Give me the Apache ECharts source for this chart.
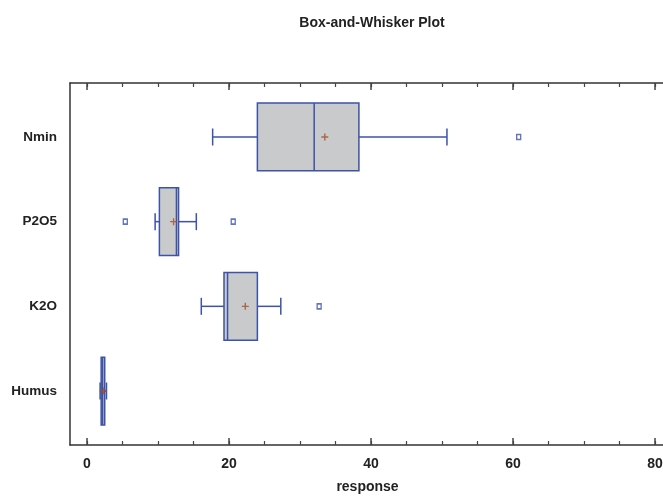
<!DOCTYPE html>
<html>
<head>
<meta charset="utf-8">
<script src="https://cdn.jsdelivr.net/npm/echarts@6/dist/echarts.min.js"></script>
<style>
  html, body { margin: 0; padding: 0; background: #fff; }
  #main { width: 663px; height: 496px; }
</style>
</head>
<body>
<div id="main"></div>
<script>
// categories, top to bottom
const categories = ["Nmin", "P2O5", "K2O", "Humus"];
// [lower whisker, Q1, median, Q3, upper whisker]
const boxValues = [
  [17.7, 24.0, 32.0, 38.3, 50.7],
  [9.6, 10.2, 12.6, 12.9, 15.4],
  [16.1, 19.3, 19.8, 24.0, 27.3],
  [1.85, 2.0, 2.2, 2.5, 2.75]
];
const means = [33.5, 12.2, 22.3, 2.3];
// [value, category index]
const outliers = [
  [60.8, 0],
  [5.4, 1],
  [20.6, 1],
  [32.7, 2]
];
const majorTicks = [0, 20, 40, 60, 80];
const minorTicks = [0, 5, 10, 15, 20, 25, 30, 35, 40, 45, 50, 55, 60, 65, 70, 75, 80];

const FONT = "'Liberation Sans', Arial, sans-serif";
const BLUE = "#3d52a9";
const X_MIN = -2.39, X_MAX = 81.41;

let myChart = echarts.init(document.getElementById("main"));

let boxData = boxValues.map((v, i) => [i].concat(v));
let meanData = means.map((v, i) => [v, i]);

function renderBox(params, api) {
  let cat = api.value(0);
  let lo = api.coord([api.value(1), cat]);
  let q1 = api.coord([api.value(2), cat]);
  let med = api.coord([api.value(3), cat]);
  let q3 = api.coord([api.value(4), cat]);
  let hi = api.coord([api.value(5), cat]);
  let h = api.size([0, 1])[1] * 0.8;
  let y = lo[1];
  let cap = 8.5;
  let line = { stroke: BLUE, lineWidth: 1.5, fill: null };
  return {
    type: "group",
    children: [
      { type: "line", shape: { x1: lo[0], y1: y, x2: q1[0], y2: y }, style: line },
      { type: "line", shape: { x1: q3[0], y1: y, x2: hi[0], y2: y }, style: line },
      { type: "line", shape: { x1: lo[0], y1: y - cap, x2: lo[0], y2: y + cap }, style: line },
      { type: "line", shape: { x1: hi[0], y1: y - cap, x2: hi[0], y2: y + cap }, style: line },
      {
        type: "rect",
        shape: { x: q1[0], y: y - h / 2, width: q3[0] - q1[0], height: h },
        style: { fill: "#c9cacc", stroke: BLUE, lineWidth: 1.5 }
      },
      { type: "line", shape: { x1: med[0], y1: y - h / 2, x2: med[0], y2: y + h / 2 }, style: line }
    ]
  };
}

myChart.setOption({
  animation: false,
  graphic: [
    {
      type: "text",
      x: 372,
      y: 23,
      style: {
        text: "Box-and-Whisker Plot",
        font: "bold 14px " + FONT,
        fill: "#222",
        align: "center",
        verticalAlign: "middle"
      }
    }
  ],
  grid: [
    { left: 70, right: -2, top: 83, bottom: 51, outerBoundsMode: "none" },
    { left: 70, right: -2, top: 94.65, bottom: 62.65, outerBoundsMode: "none" }
  ],
  xAxis: [
    {
      gridIndex: 0,
      type: "value",
      min: X_MIN,
      max: X_MAX,
      position: "bottom",
      axisLine: { show: true, onZero: false, lineStyle: { color: "#333", width: 1.5 } },
      axisTick: { show: true, inside: true, length: 7, customValues: majorTicks, lineStyle: { color: "#444", width: 1.5 } },
      axisLabel: { customValues: majorTicks, margin: 12, color: "#222", fontWeight: "bold", fontSize: 14, fontFamily: FONT },
      splitLine: { show: false },
      name: "response",
      nameLocation: "middle",
      nameGap: 35,
      nameTextStyle: { color: "#222", fontWeight: "bold", fontSize: 14, fontFamily: FONT }
    },
    {
      gridIndex: 0,
      type: "value",
      min: X_MIN,
      max: X_MAX,
      position: "bottom",
      axisLine: { show: false, onZero: false },
      axisTick: { show: true, inside: true, length: 4, customValues: minorTicks, lineStyle: { color: "#444", width: 1.2 } },
      axisLabel: { show: false },
      splitLine: { show: false }
    },
    {
      gridIndex: 0,
      type: "value",
      min: X_MIN,
      max: X_MAX,
      position: "top",
      axisLine: { show: true, onZero: false, lineStyle: { color: "#333", width: 1.5 } },
      axisTick: { show: true, inside: true, length: 7, customValues: majorTicks, lineStyle: { color: "#444", width: 1.5 } },
      axisLabel: { show: false },
      splitLine: { show: false }
    },
    {
      gridIndex: 0,
      type: "value",
      min: X_MIN,
      max: X_MAX,
      position: "top",
      axisLine: { show: false, onZero: false },
      axisTick: { show: true, inside: true, length: 4, customValues: minorTicks, lineStyle: { color: "#444", width: 1.2 } },
      axisLabel: { show: false },
      splitLine: { show: false }
    },
    {
      gridIndex: 1,
      type: "value",
      min: X_MIN,
      max: X_MAX,
      show: false
    }
  ],
  yAxis: [
    {
      gridIndex: 0,
      type: "value",
      min: 0,
      max: 1,
      axisLine: { show: true, onZero: false, lineStyle: { color: "#333", width: 1.5 } },
      axisTick: { show: false },
      axisLabel: { show: false },
      splitLine: { show: false }
    },
    {
      gridIndex: 1,
      type: "category",
      data: categories,
      inverse: true,
      axisLine: { show: false },
      axisTick: { show: false },
      axisLabel: { margin: 13, color: "#222", fontWeight: "bold", fontSize: 13.5, fontFamily: FONT },
      splitLine: { show: false }
    }
  ],
  series: [
    {
      type: "custom",
      xAxisIndex: 4,
      yAxisIndex: 1,
      data: boxData,
      encode: { x: [1, 2, 3, 4, 5], y: 0 },
      renderItem: renderBox,
      z: 2
    },
    {
      type: "scatter",
      xAxisIndex: 4,
      yAxisIndex: 1,
      data: meanData,
      symbol: "path://M-0.7,-3.5H0.7V-0.7H3.5V0.7H0.7V3.5H-0.7V0.7H-3.5V-0.7H-0.7Z",
      symbolSize: 7,
      itemStyle: { color: "#a34e26" },
      z: 4
    },
    {
      type: "scatter",
      xAxisIndex: 4,
      yAxisIndex: 1,
      data: outliers,
      symbol: "rect",
      symbolSize: [4, 5],
      itemStyle: { color: "#fff", borderColor: BLUE, borderWidth: 1.5 },
      z: 4
    }
  ]
});
</script>
</body>
</html>
